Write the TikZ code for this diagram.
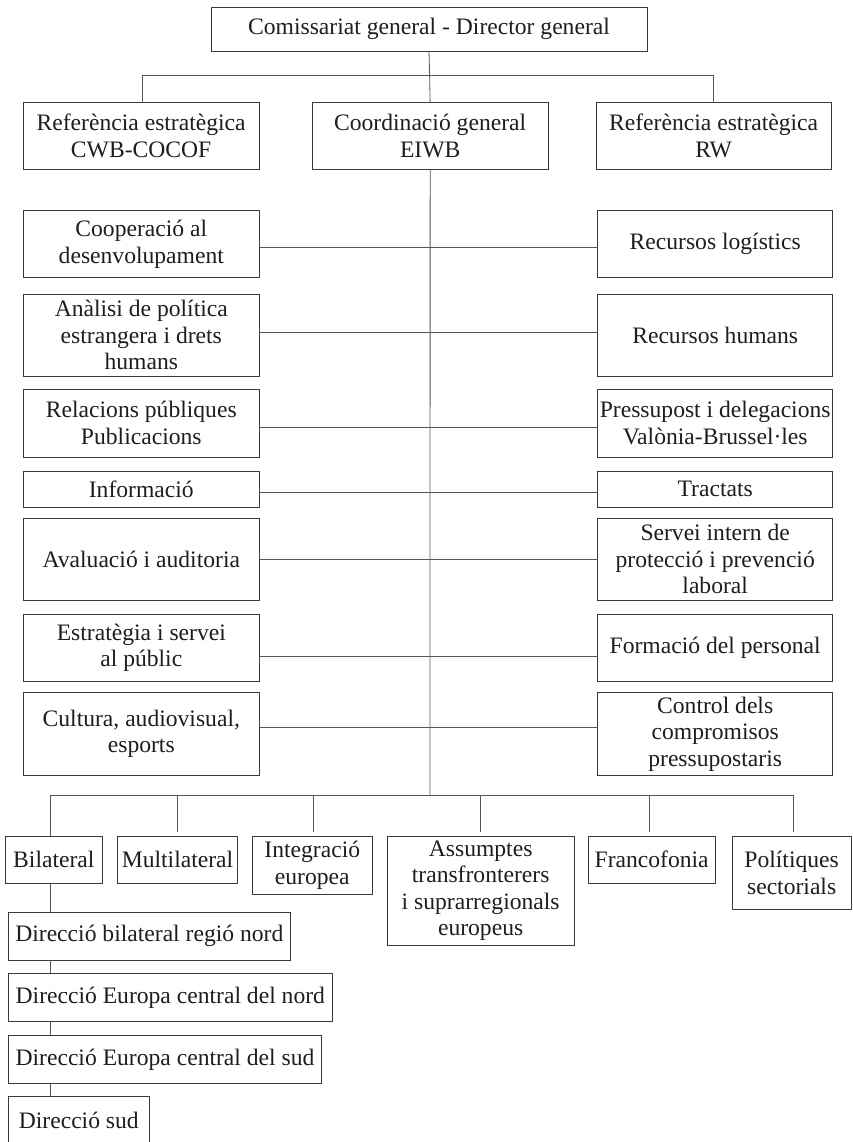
\documentclass[tikz,border=0pt]{standalone}
\usepackage{fontspec}
\setmainfont{Liberation Serif}
\definecolor{ink}{HTML}{1E1E1E}
\definecolor{edge}{HTML}{3A3A3A}
\definecolor{wire}{HTML}{555555}
\begin{document}
\begin{tikzpicture}[x=1pt,y=-1pt,
  box/.style={draw=edge, line width=0.9pt, inner sep=0pt, outer sep=0pt, align=center,
    text=ink, font=\fontsize{23.6}{26.5}\selectfont},
  conn/.style={draw=wire, line width=0.8pt}]
\useasboundingbox (0,0) rectangle (852,1142);
\clip (0,0) rectangle (852,1142);
\fill[white] (0,0) rectangle (852,1142);

% top levels
\node[box, minimum width=436, minimum height=43.7] (top) at (429,29.15) {Comissariat general - Director general};
\node[box, minimum width=235.7, minimum height=66.6] (r2l) at (141.15,136) {Referència estratègica\\CWB-COCOF};
\node[box, minimum width=235.7, minimum height=66.6] (r2m) at (430.15,136) {Coordinació general\\EIWB};
\node[box, minimum width=235.3, minimum height=66.6] (r2r) at (713.65,136) {Referència estratègica\\RW};

% left column
\node[box, minimum width=236, minimum height=67] (l1) at (141.3,244.2) {Cooperació al\\desenvolupament};
\node[box, minimum width=236, minimum height=81.7] (l2) at (141.3,335.15) {Anàlisi de política\\estrangera i drets\\humans};
\node[box, minimum width=236, minimum height=67.7] (l3) at (141.3,423.15) {Relacions públiques\\Publicacions};
\node[box, minimum width=236, minimum height=36.3] (l4) at (141.3,489.15) {Informació};
\node[box, minimum width=236, minimum height=81.7] (l5) at (141.3,559.15) {Avaluació i auditoria};
\node[box, minimum width=236, minimum height=66.7] (l6) at (141.3,647.65) {Estratègia i servei\\al públic};
\node[box, minimum width=236, minimum height=82.3] (l7) at (141.3,733.85) {Cultura, audiovisual,\\esports};

% right column
\node[box, minimum width=234.8, minimum height=67] (r1) at (715.2,244.2) {Recursos logístics};
\node[box, minimum width=234.8, minimum height=81.7] (r2) at (715.2,335.15) {Recursos humans};
\node[box, minimum width=234.8, minimum height=67.7] (r3) at (715.2,423.15) {Pressupost i delegacions\\Valònia-Brussel·les};
\node[box, minimum width=234.8, minimum height=36.3] (r4) at (715.2,489.15) {Tractats};
\node[box, minimum width=234.8, minimum height=81.7] (r5) at (715.2,559.15) {Servei intern de\\protecció i prevenció\\laboral};
\node[box, minimum width=234.8, minimum height=66.7] (r6) at (715.2,647.65) {Formació del personal};
\node[box, minimum width=234.8, minimum height=82.3] (r7) at (715.2,733.85) {Control dels\\compromisos\\pressupostaris};

% bottom row
\node[box, minimum width=97.7, minimum height=47.3] (bil) at (53.85,859.65) {Bilateral};
\node[box, minimum width=120.4, minimum height=47.3] (mul) at (177.5,859.65) {Multilateral};
\node[box, minimum width=120, minimum height=58.3] (int) at (312.3,865.15) {Integració\\europea};
\node[box, minimum width=187.3, minimum height=109] (ass) at (480.65,890.5) {Assumptes\\transfronterers\\i suprarregionals\\europeus};
\node[box, minimum width=126.7, minimum height=47.3] (fra) at (651.65,859.65) {Francofonia};
\node[box, minimum width=118.7, minimum height=73.3] (pol) at (791.65,872.65) {Polítiques\\sectorials};

% bilateral sub-boxes
\node[box, minimum width=282, minimum height=47.7] (d1) at (149.3,936.15) {Direcció bilateral regió nord};
\node[box, minimum width=324, minimum height=48.4] (d2) at (170.3,997.5) {Direcció Europa central del nord};
\node[box, minimum width=313.4, minimum height=48] (d3) at (165,1059.3) {Direcció Europa central del sud};
\node[box, minimum width=141, minimum height=48] (d4) at (78.8,1120) {Direcció sud};

% coordinates on the bars
\coordinate (tbar) at (429.6,75);
\coordinate (tL) at (142.7,75);
\coordinate (tR) at (713.7,75);
\coordinate (hub) at (430,795);
\coordinate (b1) at (50.7,795);
\coordinate (b2) at (177.7,795);
\coordinate (b3) at (313.3,795);
\coordinate (b4) at (480.3,795);
\coordinate (b5) at (649,795);
\coordinate (b6) at (793.3,795);

% top connectors
\draw[conn] (top.south) -- (tbar);
\draw[conn] (tL |- r2l.north) -- (tL) -- (tR) -- (tR |- r2r.north);
\draw[conn] (tbar) -- (r2m.north);
\draw[conn] (r2m.south) -- (hub);

% side connectors
\draw[conn] ([yshift=-3.5pt]l1.east) -- ([yshift=-3.5pt]r1.west);
\draw[conn] ([yshift=2.45pt]l2.east) -- ([yshift=2.45pt]r2.west);
\draw[conn] ([yshift=-4.55pt]l3.east) -- ([yshift=-4.55pt]r3.west);
\draw[conn] ([yshift=-3.55pt]l4.east) -- ([yshift=-3.55pt]r4.west);
\draw[conn] ([yshift=-0.15pt]l5.east) -- ([yshift=-0.15pt]r5.west);
\draw[conn] ([yshift=-9.05pt]l6.east) -- ([yshift=-9.05pt]r6.west);
\draw[conn] ([yshift=6.55pt]l7.east) -- ([yshift=6.55pt]r7.west);

% bottom bar and drops
\draw[conn] (b1) -- (b6);
\draw[conn] (b1) -- (b1 |- bil.north);
\draw[conn, shorten >=4pt] (b2) -- (b2 |- mul.north);
\draw[conn, shorten >=4pt] (b3) -- (b3 |- int.north);
\draw[conn, shorten >=4pt] (b4) -- (b4 |- ass.north);
\draw[conn, shorten >=4pt] (b5) -- (b5 |- fra.north);
\draw[conn, shorten >=4pt] (b6) -- (b6 |- pol.north);

% bilateral chain
\draw[conn] (b1 |- bil.south) -- (b1 |- d1.north);
\draw[conn] (b1 |- d1.south) -- (b1 |- d2.north);
\draw[conn] (b1 |- d2.south) -- (b1 |- d3.north);
\draw[conn] (b1 |- d3.south) -- (b1 |- d4.north);
\end{tikzpicture}
\end{document}
